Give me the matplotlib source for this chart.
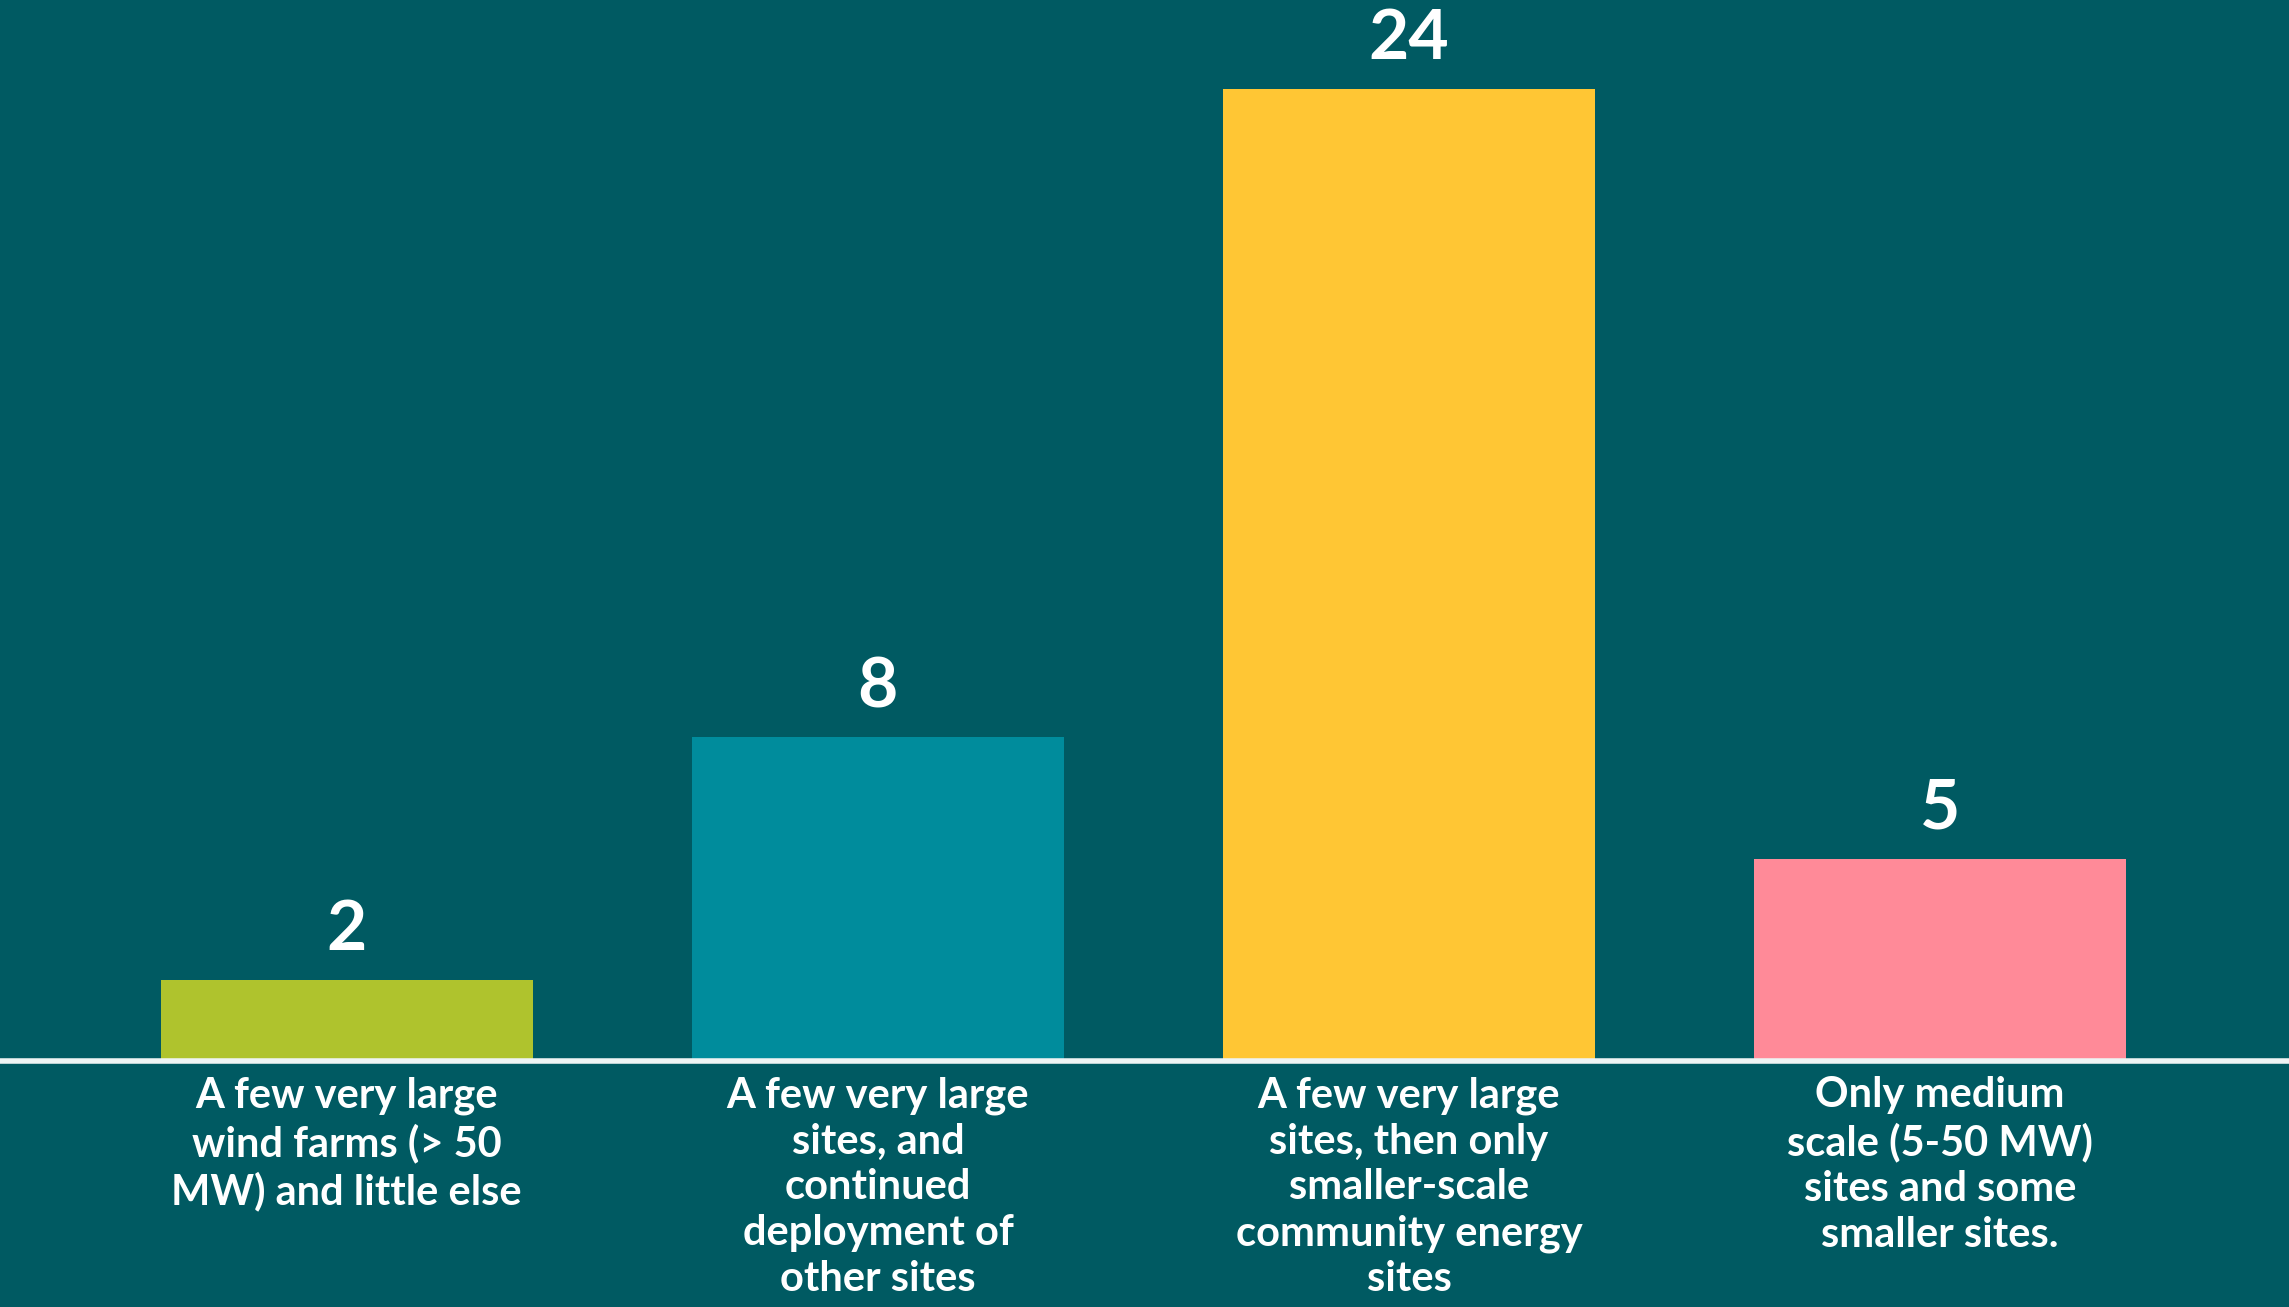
import matplotlib
matplotlib.use("Agg")
import matplotlib.pyplot as plt

categories = [
    "A few very large\nwind farms (> 50\nMW) and little else",
    "A few very large\nsites, and\ncontinued\ndeployment of\nother sites",
    "A few very large\nsites, then only\nsmaller-scale\ncommunity energy\nsites",
    "Only medium\nscale (5-50 MW)\nsites and some\nsmaller sites.",
]
values = [2, 8, 24, 5]
colors = ["#AFC32D", "#008C9C", "#FFC634", "#FF8A98"]
bg = "#005A62"

plt.rcParams['font.family'] = ['Lato', 'DejaVu Sans']

fig = plt.figure(figsize=(22.89, 13.07), dpi=100, facecolor=bg)
ax = fig.add_axes([0, 0, 1, 1])
ax.set_facecolor(bg)

x = list(range(len(values)))
ax.bar(x, values, width=0.70, color=colors, zorder=2)
ax.axhline(0, color="#EEF4F4", linewidth=4, zorder=3)

ax.set_xlim(-0.653, 3.657)
ax.set_ylim(-6.07, 26.2)
ax.axis("off")

for xi, v in zip(x, values):
    ax.annotate(str(v), (xi, v), xytext=(0, 13), textcoords="offset points",
                ha="center", va="bottom", color="white", fontsize=50,
                fontweight="bold")

for xi, c in zip(x, categories):
    ax.annotate(c, (xi, 0), xytext=(0, -11), textcoords="offset points",
                ha="center", va="top", color="white", fontsize=30,
                fontweight="bold", linespacing=1.25)

fig.savefig("out.png", dpi=100, facecolor=bg)
